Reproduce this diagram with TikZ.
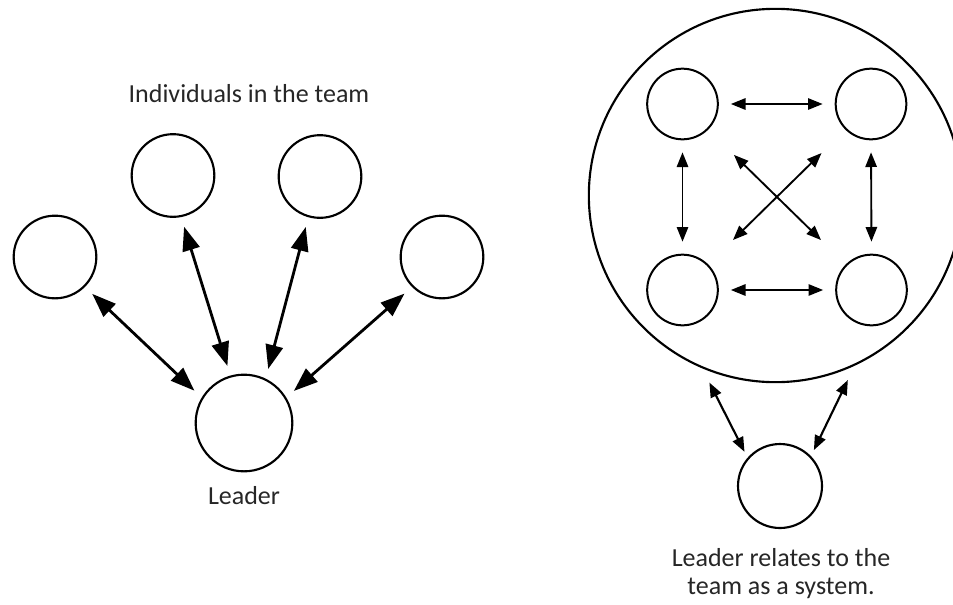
\documentclass[tikz,border=0pt]{standalone}
\usepackage{fontspec}
\setmainfont{Carlito}
\usetikzlibrary{arrows.meta}

\tikzset{
  member/.style={draw, circle, line width=1.6pt, inner sep=0pt, minimum size=62pt},
  leader/.style={draw, circle, line width=1.6pt, inner sep=0pt, minimum size=72.5pt},
  teammate/.style={draw, circle, line width=1.5pt, inner sep=0pt, minimum size=53pt},
  system/.style={draw, circle, line width=1.6pt, inner sep=0pt, minimum size=280pt},
  heavyarrow/.style={{Triangle[length=18pt,width=13pt]}-{Triangle[length=18pt,width=13pt]}, line width=2.1pt, shorten <=7.5pt, shorten >=7.5pt},
  lightarrow/.style={{Triangle[length=11pt,width=8.5pt]}-{Triangle[length=11pt,width=8.5pt]}, line width=1.4pt},
  caption/.style={font=\fontsize{19.5}{21}\selectfont, inner sep=0pt, text=black!85}
}

\begin{document}
\begin{tikzpicture}[x=0.75pt,y=0.75pt,yscale=-1,xscale=1]
\useasboundingbox (0,0) rectangle (953,604);

%Shape: Circle [left group]
\node [member] (ind1) at (55,257) {};
\node [member] (ind2) at (173,175.5) {};
\node [member] (ind3) at (320,176.5) {};
\node [member] (ind4) at (442,257) {};
\node [leader] (boss) at (244,423) {};

%Straight Lines [left group]
\draw [heavyarrow] (ind1.-45) -- (boss.149);
\draw [heavyarrow] (ind2.-79) -- (boss.106);
\draw [heavyarrow] (ind3.-106) -- (boss.64);
\draw [heavyarrow] (ind4.-135) -- (boss.31);

%Shape: Circle [right group]
\node [system] (team) at (775.5,195.5) {};
\node [teammate] (tl) at (682.5,104) {};
\node [teammate] (tr) at (871,104) {};
\node [teammate] (bl) at (682.5,290) {};
\node [teammate] (br) at (871.5,290) {};
\node [leader, minimum size=63pt] (head) at (780,486) {};

%Straight Lines [right group]
\draw [lightarrow, shorten <=9pt, shorten >=9pt] (tl.east) -- (tr.west);
\draw [lightarrow, shorten <=9pt, shorten >=9pt] (bl.east) -- (br.west);
\draw [lightarrow, shorten <=9pt, shorten >=9pt] (tl.south) -- (bl.north);
\draw [lightarrow, shorten <=9pt, shorten >=9pt] (tr.south) -- (br.north);
\draw [lightarrow, shorten <=27pt, shorten >=26pt] (tl.-45) -- (br.135);
\draw [lightarrow, shorten <=25pt, shorten >=26pt] (tr.-135) -- (bl.45);
\draw [lightarrow, line width=1.6pt, shorten <=12pt, shorten >=5pt] (team.-113) -- (head.139);
\draw [lightarrow, line width=1.6pt, shorten <=12pt, shorten >=5pt] (team.-65) -- (head.44);

% Text Node
\node [caption, anchor=base] (title) at (249,102) {Individuals in the team};
% Text Node
\node [caption, anchor=base] (bosslabel) at (244,504) {Leader};
% Text Node
\node [caption, anchor=base, align=center] (headlabel) at (781,594) {Leader relates to the\\team as a system.};

\end{tikzpicture}
\end{document}
